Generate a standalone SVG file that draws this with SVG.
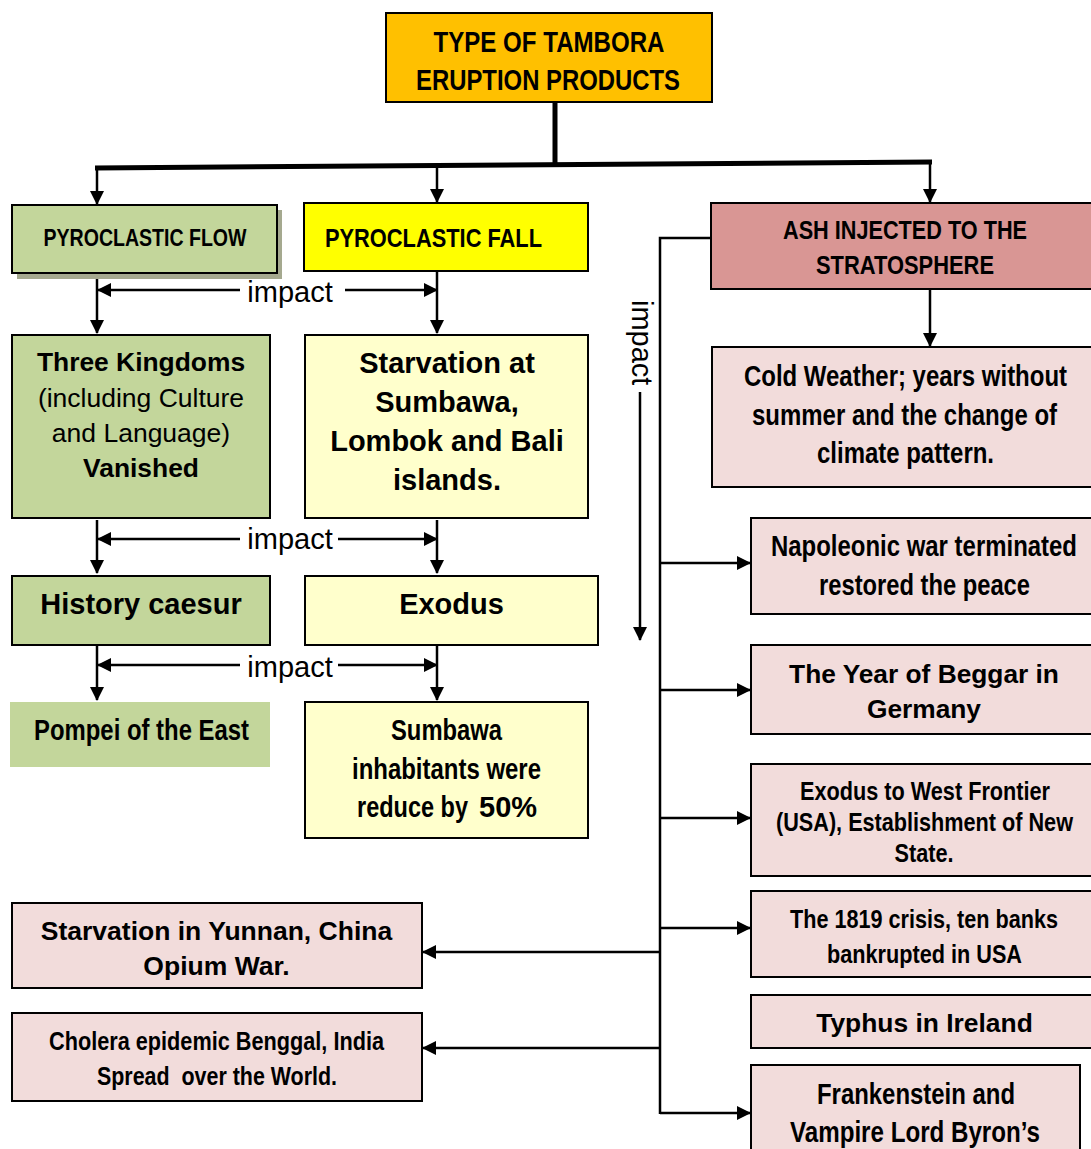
<svg xmlns="http://www.w3.org/2000/svg" width="1091" height="1149" viewBox="0 0 1091 1149">
<style>
.box{stroke:#000;stroke-width:2}
.n{font-family:"Liberation Sans",Arial,sans-serif;font-weight:bold;fill:#000}
.a{font-family:"Liberation Sans",Arial,sans-serif;font-weight:bold;fill:#000}
.r{font-family:"Liberation Sans",Arial,sans-serif;font-weight:normal;fill:#000}
.c{text-anchor:middle}
.ln{stroke:#000;stroke-width:2.5;fill:none}
</style>
<defs>
<marker id="ah" markerUnits="userSpaceOnUse" markerWidth="14" markerHeight="14" refX="13" refY="7" orient="auto">
<path d="M0,0 L14,7 L0,14 Z" fill="#000"/>
</marker>
</defs>
<rect width="1091" height="1149" fill="#fff"/>

<g id="connectors">
<path d="M555,102 V165" stroke="#000" stroke-width="5" fill="none"/>
<path d="M95,168 L932,162" stroke="#000" stroke-width="5" fill="none"/>
<path class="ln" d="M97,168 V204" stroke-width="3" marker-end="url(#ah)"/>
<path class="ln" d="M437,167 V202" stroke-width="3" marker-end="url(#ah)"/>
<path class="ln" d="M930,162 V202" stroke-width="3" marker-end="url(#ah)"/>
<path class="ln" d="M97,273 V333" marker-end="url(#ah)"/>
<path class="ln" d="M437,271 V333" marker-end="url(#ah)"/>
<path class="ln" d="M240,290 H98" marker-end="url(#ah)"/>
<path class="ln" d="M345,290 H437" marker-end="url(#ah)"/>
<path class="ln" d="M97,520 V573" marker-end="url(#ah)"/>
<path class="ln" d="M437,520 V573" marker-end="url(#ah)"/>
<path class="ln" d="M240,539 H98" marker-end="url(#ah)"/>
<path class="ln" d="M338,539 H437" marker-end="url(#ah)"/>
<path class="ln" d="M97,646 V700" marker-end="url(#ah)"/>
<path class="ln" d="M437,646 V700" marker-end="url(#ah)"/>
<path class="ln" d="M240,665 H98" marker-end="url(#ah)"/>
<path class="ln" d="M338,665 H437" marker-end="url(#ah)"/>
<path class="ln" d="M930,289 V346" marker-end="url(#ah)"/>
<path class="ln" d="M711,238 H660 V1114"/>
<path class="ln" d="M640,392 V640" marker-end="url(#ah)"/>
<path class="ln" d="M660,563 H750" marker-end="url(#ah)"/>
<path class="ln" d="M660,690 H750" marker-end="url(#ah)"/>
<path class="ln" d="M660,818 H750" marker-end="url(#ah)"/>
<path class="ln" d="M660,928 H750" marker-end="url(#ah)"/>
<path class="ln" d="M660,1113 H750" marker-end="url(#ah)"/>
<path class="ln" d="M660,952 H423" marker-end="url(#ah)"/>
<path class="ln" d="M660,1048 H423" marker-end="url(#ah)"/>
<text class="r c" x="290" y="302" font-size="29">impact</text>
<text class="r c" x="290" y="549" font-size="29">impact</text>
<text class="r c" x="290" y="677" font-size="29">impact</text>
<text class="r" font-size="29" transform="translate(632,300) rotate(90)">impact</text>
</g>

<g id="n-top">
<rect class="box" x="386" y="13" width="326" height="89" fill="#FFC000" stroke-width="2.5"/>
<text class="n c" x="549" y="52" font-size="29" textLength="231" lengthAdjust="spacingAndGlyphs">TYPE OF TAMBORA</text>
<text class="n c" x="548" y="90" font-size="29" textLength="264" lengthAdjust="spacingAndGlyphs">ERUPTION PRODUCTS</text>
</g>

<g id="n-flow">
<rect x="17" y="210" width="265" height="69" fill="#A5A98F"/>
<rect class="box" x="12" y="205" width="265" height="68" fill="#C3D69B" stroke-width="1.5"/>
<text class="n c" x="145" y="246" font-size="24" textLength="203" lengthAdjust="spacingAndGlyphs">PYROCLASTIC FLOW</text>
</g>

<g id="n-fall">
<rect class="box" x="304" y="203" width="284" height="68" fill="#FFFF00"/>
<text class="n" x="325" y="247" font-size="26.5" textLength="217" lengthAdjust="spacingAndGlyphs">PYROCLASTIC FALL</text>
</g>

<g id="n-ash">
<rect class="box" x="711" y="203" width="384" height="86" fill="#D99694"/>
<text class="n c" x="905" y="239" font-size="26.5" textLength="244" lengthAdjust="spacingAndGlyphs">ASH INJECTED TO THE</text>
<text class="n c" x="905" y="274" font-size="26.5" textLength="178" lengthAdjust="spacingAndGlyphs">STRATOSPHERE</text>
</g>

<g id="n-cold">
<rect class="box" x="712" y="347" width="383" height="140" fill="#F2DCDB"/>
<text class="n c" x="905.5" y="386" font-size="29" textLength="323" lengthAdjust="spacingAndGlyphs">Cold Weather; years without</text>
<text class="n c" x="904.5" y="425" font-size="29" textLength="305" lengthAdjust="spacingAndGlyphs">summer and the change of</text>
<text class="n c" x="905.5" y="463" font-size="29" textLength="177" lengthAdjust="spacingAndGlyphs">climate pattern.</text>
</g>

<g id="n-napoleon">
<rect class="box" x="751" y="518" width="344" height="96" fill="#F2DCDB"/>
<text class="n c" x="924" y="556" font-size="29" textLength="306" lengthAdjust="spacingAndGlyphs">Napoleonic war terminated</text>
<text class="n c" x="924.5" y="595" font-size="29" textLength="211" lengthAdjust="spacingAndGlyphs">restored the peace</text>
</g>

<g id="n-beggar">
<rect class="box" x="751" y="645" width="344" height="89" fill="#F2DCDB"/>
<text class="a c" x="924" y="683" font-size="26.3">The Year of Beggar in</text>
<text class="a c" x="924" y="718" font-size="26.3">Germany</text>
</g>

<g id="n-west">
<rect class="box" x="751" y="764" width="344" height="112" fill="#F2DCDB"/>
<text class="n c" x="925" y="800" font-size="26.4" textLength="250" lengthAdjust="spacingAndGlyphs">Exodus to West Frontier</text>
<text class="n c" x="924.5" y="831" font-size="26.4" textLength="297" lengthAdjust="spacingAndGlyphs">(USA), Establishment of New</text>
<text class="n c" x="924" y="862" font-size="26.4" textLength="59" lengthAdjust="spacingAndGlyphs">State.</text>
</g>

<g id="n-1819">
<rect class="box" x="751" y="891" width="344" height="86" fill="#F2DCDB"/>
<text class="n c" x="924" y="928" font-size="26.4" textLength="268" lengthAdjust="spacingAndGlyphs">The 1819 crisis, ten banks</text>
<text class="n c" x="924.5" y="963" font-size="26.4" textLength="195" lengthAdjust="spacingAndGlyphs">bankrupted in USA</text>
</g>

<g id="n-typhus">
<rect class="box" x="751" y="995" width="344" height="53" fill="#F2DCDB"/>
<text class="a c" x="924.5" y="1032" font-size="26.4">Typhus in Ireland</text>
</g>

<g id="n-frank">
<rect class="box" x="751" y="1065" width="329" height="100" fill="#F2DCDB"/>
<text class="n c" x="916" y="1104" font-size="29" textLength="198" lengthAdjust="spacingAndGlyphs">Frankenstein and</text>
<text class="n c" x="915" y="1142" font-size="29" textLength="250" lengthAdjust="spacingAndGlyphs">Vampire Lord Byron’s</text>
</g>

<g id="n-yunnan">
<rect class="box" x="12" y="903" width="410" height="85" fill="#F2DCDB"/>
<text class="a c" x="216.5" y="940" font-size="26.5">Starvation in Yunnan, China</text>
<text class="a c" x="216.5" y="975" font-size="26.5">Opium War.</text>
</g>

<g id="n-cholera">
<rect class="box" x="12" y="1013" width="410" height="88" fill="#F2DCDB"/>
<text class="n c" x="216.5" y="1050" font-size="26.4" textLength="335" lengthAdjust="spacingAndGlyphs">Cholera epidemic Benggal, India</text>
<text class="n c" x="217" y="1085" font-size="26.4" textLength="240" lengthAdjust="spacingAndGlyphs">Spread &#160;over the World.</text>
</g>

<g id="n-kingdoms">
<rect class="box" x="12" y="335" width="258" height="183" fill="#C3D69B"/>
<text class="a c" x="141" y="371" font-size="26.4">Three Kingdoms</text>
<text class="r c" x="141" y="407" font-size="26.5">(including Culture</text>
<text class="r c" x="141" y="442" font-size="26.5">and Language)</text>
<text class="a c" x="141" y="477" font-size="26.4">Vanished</text>
</g>

<g id="n-starvation">
<rect class="box" x="305" y="335" width="283" height="183" fill="#FFFFCC"/>
<text class="a c" x="447" y="373" font-size="29">Starvation at</text>
<text class="a c" x="447" y="412" font-size="29">Sumbawa,</text>
<text class="a c" x="447" y="451" font-size="29">Lombok and Bali</text>
<text class="a c" x="447" y="490" font-size="29">islands.</text>
</g>

<g id="n-history">
<rect class="box" x="12" y="576" width="258" height="69" fill="#C3D69B"/>
<text class="a c" x="141" y="614" font-size="29">History caesur</text>
</g>

<g id="n-exodus">
<rect class="box" x="305" y="576" width="293" height="69" fill="#FFFFCC"/>
<text class="a c" x="451.5" y="614" font-size="29">Exodus</text>
</g>

<g id="n-pompei">
<rect x="10" y="702" width="260" height="65" fill="#C3D69B"/>
<text class="n c" x="141.5" y="740" font-size="29" textLength="215" lengthAdjust="spacingAndGlyphs">Pompei of the East</text>
</g>

<g id="n-sumbawa">
<rect class="box" x="305" y="702" width="283" height="136" fill="#FFFFCC"/>
<text class="n c" x="446.5" y="740" font-size="29" textLength="111" lengthAdjust="spacingAndGlyphs">Sumbawa</text>
<text class="n c" x="446.5" y="779" font-size="29" textLength="189" lengthAdjust="spacingAndGlyphs">inhabitants were</text>
<text class="n" x="357" y="817" font-size="29"><tspan textLength="111" lengthAdjust="spacingAndGlyphs">reduce by</tspan><tspan class="a" x="479">50%</tspan></text>
</g>
</svg>
